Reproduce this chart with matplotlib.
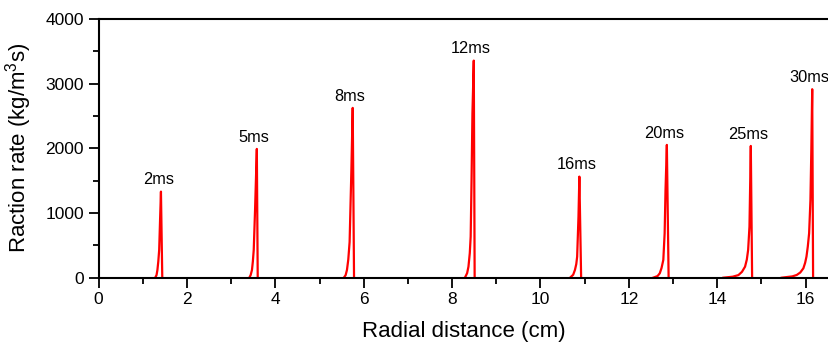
import numpy as np
import matplotlib
matplotlib.use("Agg")
from matplotlib import pyplot as plt
from matplotlib.ticker import MultipleLocator

plt.rcParams['font.family'] = ['Liberation Sans', 'DejaVu Sans']
plt.rcParams['mathtext.fontset'] = 'custom'
plt.rcParams['mathtext.rm'] = 'Liberation Sans'

# time labels of each reaction front
labels = ["2ms", "5ms", "8ms", "12ms", "16ms", "20ms", "25ms", "30ms"]

# radial distance (cm) / reaction rate (kg/m^3 s) points
x_2ms = [1.28, 1.31, 1.33, 1.35, 1.37, 1.39, 1.41, 1.44]
y_2ms = [0, 40, 119, 250, 429, 893, 1330, 0]
x_5ms = [3.41, 3.44, 3.47, 3.49, 3.51, 3.54, 3.58, 3.60]
y_5ms = [0, 40, 119, 250, 429, 1048, 1990, 0]
x_8ms = [5.55, 5.59, 5.62, 5.65, 5.68, 5.72, 5.75, 5.78]
y_8ms = [0, 40, 119, 280, 552, 1660, 2624, 0]
x_12ms = [8.29, 8.34, 8.37, 8.40, 8.42, 8.44, 8.46, 8.49, 8.51]
y_12ms = [0, 70, 170, 380, 634, 1510, 2542, 3355, 0]
x_16ms = [10.67, 10.74, 10.78, 10.81, 10.83, 10.86, 10.88, 10.92]
y_16ms = [0, 45, 120, 210, 325, 943, 1562, 0]
x_20ms = [12.55, 12.65, 12.70, 12.74, 12.78, 12.81, 12.83, 12.86, 12.90]
y_20ms = [0, 25, 68, 150, 274, 686, 1356, 2052, 0]
x_25ms = [14.14, 14.35, 14.48, 14.56, 14.63, 14.67, 14.70, 14.73, 14.74, 14.76, 14.79]
y_25ms = [0, 15, 40, 90, 170, 280, 430, 790, 1200, 2036, 0]
x_30ms = [15.46, 15.70, 15.80, 15.88, 15.95, 15.99, 16.02, 16.05, 16.08, 16.11, 16.13, 16.15, 16.17]
y_30ms = [0, 20, 42, 80, 145, 230, 325, 480, 686, 1201, 1974, 2913, 0]

peaks_x = [x_2ms, x_5ms, x_8ms, x_12ms, x_16ms, x_20ms, x_25ms, x_30ms]
peaks_y = [y_2ms, y_5ms, y_8ms, y_12ms, y_16ms, y_20ms, y_25ms, y_30ms]

fig = plt.figure(figsize=(8.29, 3.56), dpi=100)
ax = fig.add_axes([0.119, 0.22, 0.881, 0.727])

for px, py, lab in zip(peaks_x, peaks_y, labels):
    ax.plot(px, py, color="red", lw=1.6)
    i = int(np.argmax(py))
    ax.annotate(lab, (px[i], py[i]), xytext=(-2, 3), textcoords="offset points",
                ha="center", va="bottom", fontsize=11.8)

ax.set_xlim(0, 16.53)
ax.set_ylim(0, 4000)
ax.xaxis.set_major_locator(MultipleLocator(2))
ax.xaxis.set_minor_locator(MultipleLocator(1))
ax.yaxis.set_major_locator(MultipleLocator(1000))
ax.yaxis.set_minor_locator(MultipleLocator(500))
ax.tick_params(which="major", direction="out", length=7, width=1.3, labelsize=12.5)
ax.tick_params(which="minor", direction="out", length=4, width=1.3)
ax.spines["right"].set_visible(False)
for s in ["left", "bottom", "top"]:
    ax.spines[s].set_linewidth(1.5)

ax.set_xlabel("Radial distance (cm)", fontsize=16, labelpad=10)
ax.set_ylabel("Raction rate (kg/m$^3$s)", fontsize=16, labelpad=8)

fig.savefig("out.png", dpi=100)
